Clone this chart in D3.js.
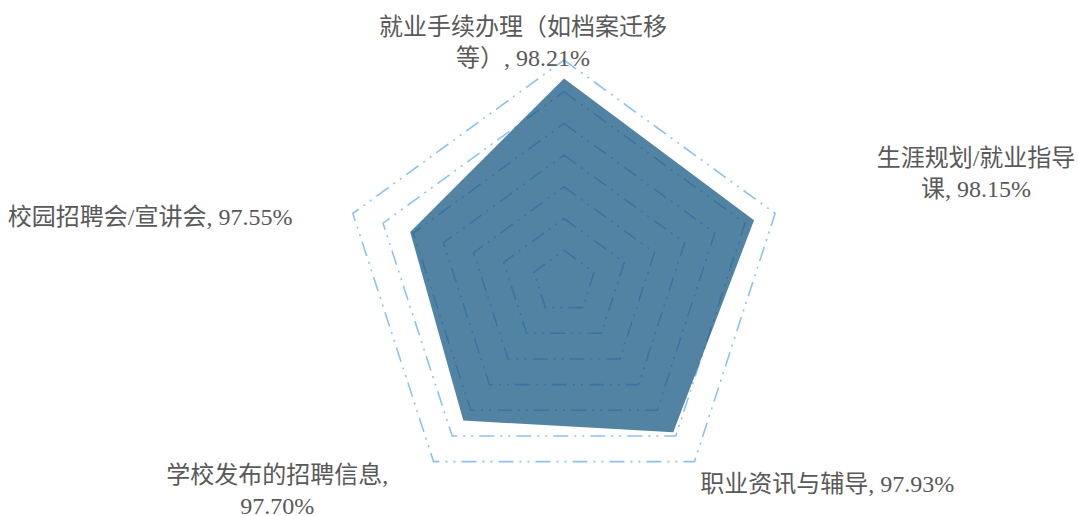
<!DOCTYPE html>
<html>
<head>
<meta charset="utf-8">
<script src="https://cdn.jsdelivr.net/npm/d3@7"></script>
<style>
  html, body { margin: 0; padding: 0; background: #fff; }
  svg { display: block; }
  .label { font-family: "Liberation Serif", "Noto Sans CJK SC", serif; font-size: 24px; fill: #595959; }
</style>
</head>
<body>
<div id="radar"></div>
<script>
// Data
const categories = ["就业手续办理（如档案迁移等）", "生涯规划/就业指导课", "职业资讯与辅导", "学校发布的招聘信息", "校园招聘会/宣讲会"];
const values = [98.21, 98.15, 97.93, 97.70, 97.55];
const gridTicks = [95.5, 96, 96.5, 97, 97.5, 98, 98.5];

// Layout
const width = 1078, height = 516;
const cx = 564, cy = 282, radius = 222;
// label block centre, relative to the data point
const labelOffsets = [[-41, -36], [222, -47], [154, 52], [-186, 70], [-260, -15]];
const labelMaxWidth = [300, 210, 400, 235, 400];
const lineHeight = 31;

const svg = d3.select("#radar")
    .append("svg")
    .attr("width", width)
    .attr("height", height);

const chart = svg.append("g")
    .attr("transform", `translate(${cx},${cy})`);

const rScale = d3.scaleLinear()
    .domain([95, 98.5])
    .range([0, radius]);

const angle = i => i * 2 * Math.PI / categories.length;

const radial = d3.lineRadial()
    .angle((d, i) => angle(i))
    .radius(d => rScale(d))
    .curve(d3.curveLinearClosed);

// grid rings, dash-dot-dot
chart.selectAll(".ring")
    .data(gridTicks)
    .join("path")
    .attr("class", "ring")
    .attr("d", t => radial(categories.map(() => t)))
    .attr("fill", "none")
    .attr("stroke", "#8ec2f2")
    .attr("stroke-width", 1.6)
    .attr("stroke-dasharray", "15,6,2,6,2,6");

// data area (semi transparent so grid shows through)
chart.append("path")
    .attr("d", radial(values))
    .attr("fill", "#1a5a84")
    .attr("fill-opacity", 0.75);

// point position
const pointXY = (v, i) => {
    const r = rScale(v);
    return [r * Math.sin(angle(i)), -r * Math.cos(angle(i))];
};

// wrap text greedily by measured width
const wrapText = (text, maxW) => {
    const tokens = text.match(/[\u3000-\u9fff\uff00-\uffef]|[^\s\u3000-\u9fff\uff00-\uffef]+|\s+/g);
    const probe = svg.append("text").attr("class", "label");
    const lines = [];
    let cur = "";
    tokens.forEach(tok => {
        const test = cur + tok;
        probe.text(test.trim());
        if (probe.node().getComputedTextLength() > maxW && cur.trim() !== "") {
            lines.push(cur.trim());
            cur = tok;
        } else {
            cur = test;
        }
    });
    if (cur.trim() !== "") lines.push(cur.trim());
    probe.remove();
    return lines;
};

// labels
categories.forEach((cat, i) => {
    const [px, py] = pointXY(values[i], i);
    const lx = px + labelOffsets[i][0];
    const ly = py + labelOffsets[i][1];
    const lines = wrapText(`${cat}, ${values[i].toFixed(2)}%`, labelMaxWidth[i]);
    const top = ly - (lines.length - 1) * lineHeight / 2;

    const label = chart.append("text")
        .attr("class", "label")
        .attr("text-anchor", "middle")
        .attr("dominant-baseline", "central");

    lines.forEach((ln, j) => {
        label.append("tspan")
            .attr("x", lx)
            .attr("y", top + j * lineHeight)
            .text(ln);
    });
});
</script>
</body>
</html>
